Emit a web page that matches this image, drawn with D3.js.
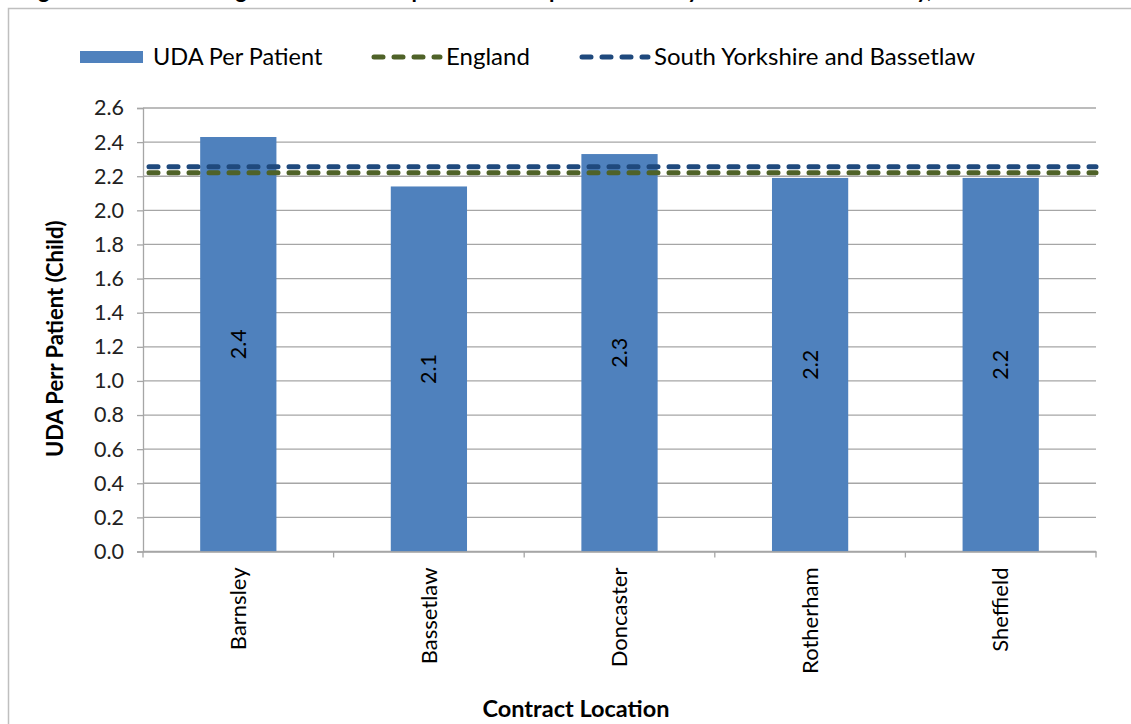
<!DOCTYPE html>
<html>
<head>
<meta charset="utf-8">
<script src="https://cdn.jsdelivr.net/npm/d3@7"></script>
<style>
  html, body { margin: 0; padding: 0; background: #fff; overflow: hidden; }
  svg { display: block; font-family: Lato, "Open Sans", sans-serif; }
</style>
</head>
<body>
<svg id="chart" width="1131" height="724"></svg>
<script>
// Child UDA per patient by contract location
const categories = ["Barnsley", "Bassetlaw", "Doncaster", "Rotherham", "Sheffield"];
const udaPerPatient = [2.43, 2.14, 2.33, 2.19, 2.19];
const englandValue = 2.22;
const syBassetlawValue = 2.255;
const yTickValues = [0, 0.2, 0.4, 0.6, 0.8, 1.0, 1.2, 1.4, 1.6, 1.8, 2.0, 2.2, 2.4, 2.6];
const seriesNames = ["UDA Per Patient", "England", "South Yorkshire and Bassetlaw"];
const titleText = "Figure 14: Child Average UDAs Claimed per individual patient seen by dental contract locality, 2013/14";
const yAxisTitle = "UDA Perr Patient (Child)";
const xAxisTitle = "Contract Location";

const barColor = "#4F81BD";
const englandColor = "#4F6228";
const syColor = "#1F497D";
const gridColor = "#a6a6a6";

const svg = d3.select("#chart");

// figure title, mostly above the visible area
svg.append("text")
  .attr("x", 20).attr("y", -2)
  .attr("font-size", 22).attr("font-weight", "bold")
  .attr("fill", "#000")
  .text(titleText);

// chart frame
svg.append("rect")
  .attr("x", 8.5).attr("y", 8.5)
  .attr("width", 1140).attr("height", 740)
  .attr("fill", "#fff")
  .attr("stroke", "#bfbfbf").attr("stroke-width", 1.5);

const plot = { left: 143, right: 1096, top: 108, bottom: 551.5 };

const x = d3.scaleBand().domain(categories).range([plot.left, plot.right]).paddingInner(0.6).paddingOuter(0.3);
const xOuter = d3.scaleBand().domain(categories).range([plot.left, plot.right]);
const y = d3.scaleLinear().domain([0, 2.6]).range([plot.bottom, plot.top]);

// horizontal gridlines
svg.append("g")
  .selectAll("line")
  .data(yTickValues)
  .join("line")
  .attr("x1", plot.left).attr("x2", plot.right)
  .attr("y1", d => y(d)).attr("y2", d => y(d))
  .attr("stroke", gridColor).attr("stroke-width", 1.3);

// y axis
const yAxis = svg.append("g")
  .attr("transform", `translate(${plot.left},0)`)
  .call(d3.axisLeft(y).tickValues(yTickValues).tickFormat(d3.format(".1f")).tickSizeOuter(0).tickSize(6).tickPadding(13));
yAxis.select(".domain").attr("stroke", gridColor).attr("stroke-width", 1.3);
yAxis.selectAll(".tick line").attr("stroke", gridColor).attr("stroke-width", 1.3);
yAxis.selectAll(".tick text")
  .attr("font-size", 21.5).attr("fill", "#222").attr("font-family", "Lato, sans-serif");

// bars
svg.append("g")
  .selectAll("rect")
  .data(categories)
  .join("rect")
  .attr("x", d => x(d))
  .attr("width", x.bandwidth())
  .attr("y", (d, i) => y(udaPerPatient[i]))
  .attr("height", (d, i) => y(0) - y(udaPerPatient[i]))
  .attr("fill", barColor);

// value labels inside bars
svg.append("g")
  .selectAll("text")
  .data(categories)
  .join("text")
  .attr("transform", (d, i) => `translate(${x(d) + x.bandwidth() / 2},${(y(udaPerPatient[i]) + y(0)) / 2}) rotate(-90)`)
  .attr("text-anchor", "middle")
  .attr("dy", "0.35em")
  .attr("font-size", 21.5).attr("fill", "#000")
  .text((d, i) => d3.format(".1f")(udaPerPatient[i]));

// reference lines
const refLines = [
  { value: englandValue, color: englandColor },
  { value: syBassetlawValue, color: syColor }
];
svg.append("g")
  .selectAll("line")
  .data(refLines)
  .join("line")
  .attr("x1", plot.left + 6).attr("x2", plot.right)
  .attr("y1", d => y(d.value)).attr("y2", d => y(d.value))
  .attr("stroke", d => d.color)
  .attr("stroke-width", 5)
  .attr("stroke-linecap", "round")
  .attr("stroke-dasharray", "9,11");

// x axis line
const xAxis = svg.append("g")
  .attr("transform", `translate(0,${plot.bottom})`)
  .call(d3.axisBottom(xOuter).tickSize(0).tickSizeOuter(0).tickFormat(""));
xAxis.select(".domain").attr("stroke", gridColor).attr("stroke-width", 1.3);
xAxis.selectAll(".tick").remove();
// category boundary ticks
const boundaries = categories.map(d => xOuter(d)).concat([plot.right]);
svg.append("g")
  .selectAll("line")
  .data(boundaries)
  .join("line")
  .attr("x1", d => d).attr("x2", d => d)
  .attr("y1", plot.bottom).attr("y2", plot.bottom + 6)
  .attr("stroke", gridColor).attr("stroke-width", 1.3);

// category labels
svg.append("g")
  .selectAll("text")
  .data(categories)
  .join("text")
  .attr("transform", d => `translate(${xOuter(d) + xOuter.bandwidth() / 2},${plot.bottom + 16}) rotate(-90)`)
  .attr("text-anchor", "end")
  .attr("dy", "0.35em")
  .attr("font-size", 22).attr("fill", "#000")
  .text(d => d);

// axis titles
svg.append("text")
  .attr("transform", `translate(63,${(plot.top + plot.bottom) / 2 + 9}) rotate(-90)`)
  .attr("text-anchor", "middle")
  .attr("font-size", 22).attr("font-weight", "bold").attr("fill", "#000")
  .text(yAxisTitle);

svg.append("text")
  .attr("x", 576).attr("y", 717)
  .attr("text-anchor", "middle")
  .attr("font-size", 23.5).attr("font-weight", "bold").attr("fill", "#000")
  .text(xAxisTitle);

// legend
const legend = svg.append("g");
legend.append("rect")
  .attr("x", 80).attr("y", 51).attr("width", 63).attr("height", 12)
  .attr("fill", barColor);
legend.append("text")
  .attr("x", 153).attr("y", 57).attr("dy", "0.35em")
  .attr("font-size", 23.5).attr("fill", "#000")
  .text(seriesNames[0]);

const legendLines = [
  { x1: 374, x2: 440, tx: 446, color: englandColor, name: seriesNames[1] },
  { x1: 582, x2: 648, tx: 654, color: syColor, name: seriesNames[2] }
];
legendLines.forEach(l => {
  legend.append("line")
    .attr("x1", l.x1).attr("x2", l.x2).attr("y1", 57).attr("y2", 57)
    .attr("stroke", l.color).attr("stroke-width", 5)
    .attr("stroke-linecap", "round").attr("stroke-dasharray", "9,11");
  legend.append("text")
    .attr("x", l.tx).attr("y", 57).attr("dy", "0.35em")
    .attr("font-size", 24).attr("fill", "#000")
    .text(l.name);
});
</script>
</body>
</html>
